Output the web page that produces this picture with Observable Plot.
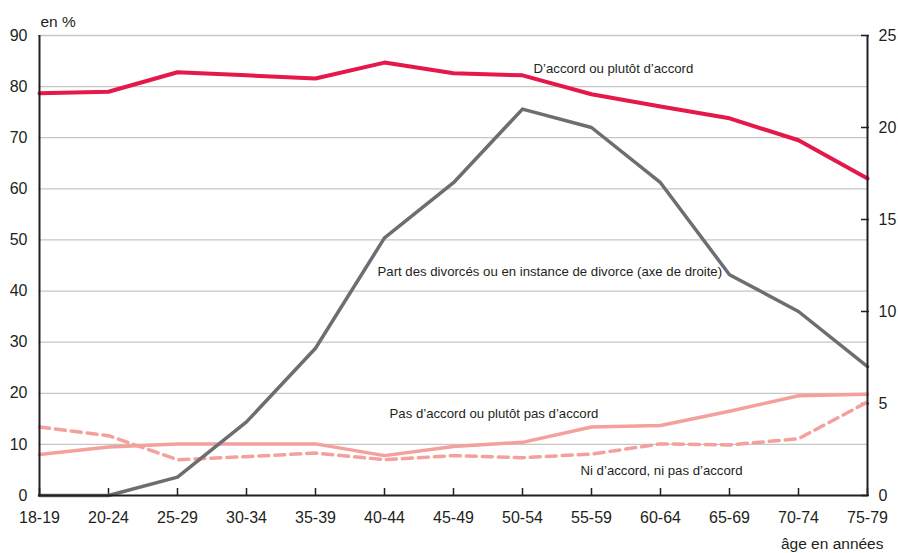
<!DOCTYPE html>
<html><head><meta charset="utf-8">
<script src="https://cdn.jsdelivr.net/npm/d3@7"></script>
<script src="https://cdn.jsdelivr.net/npm/@observablehq/plot@0.6"></script>
<style>body{margin:0;background:#fff;} svg{display:block}</style>
</head><body><div id="chart"></div>
<script>
const ages = ["18-19","20-24","25-29","30-34","35-39","40-44","45-49","50-54","55-59","60-64","65-69","70-74","75-79"];
const accord = [78.7, 79.0, 82.8, 82.2, 81.6, 84.7, 82.6, 82.2, 78.5, 76.1, 73.8, 69.5, 62.0];
const pasAccord = [8.0, 9.5, 10.1, 10.1, 10.1, 7.8, 9.6, 10.4, 13.4, 13.7, 16.5, 19.5, 19.8];
const niNi = [13.4, 11.7, 7.0, 7.6, 8.3, 7.0, 7.8, 7.4, 8.1, 10.1, 9.9, 11.1, 18.3];
const divorces = [0, 0, 1.0, 4.0, 8.0, 14.0, 17.0, 21.0, 20.0, 17.0, 12.0, 10.0, 7.0];
const leftTicks = [0, 10, 20, 30, 40, 50, 60, 70, 80, 90];
const rightTicks = [0, 5, 10, 15, 20, 25];
const labelTexts = [
  "D\u2019accord ou plutôt d\u2019accord",
  "Part des divorcés ou en instance de divorce (axe de droite)",
  "Pas d\u2019accord ou plutôt pas d\u2019accord",
  "Ni d\u2019accord, ni pas d\u2019accord"
];
const labelAges = ["50-54", "40-44", "40-44", "55-59"];
const labelValues = [83.5, 43.8, 16.0, 4.9];
const labelDx = [11, -7, 5, -11];
const ratio = 90 / 25;
const font = "'Liberation Sans', Arial, Helvetica, sans-serif";
const rows = ages.map((a, i) => ({age: a, accord: accord[i], pas: pasAccord[i], ni: niNi[i], div: divorces[i] * ratio}));
const ink = "#231f20";

const labelMarks = labelTexts.map((t, i) =>
  Plot.text([{text: t, age: labelAges[i], value: labelValues[i]}],
    {x: "age", y: "value", text: "text", dx: labelDx[i], textAnchor: "start", fontSize: 13.2, fill: ink}));

const chart = Plot.plot({
  width: 898, height: 553,
  marginLeft: 38, marginRight: 30, marginTop: 35, marginBottom: 58,
  style: {fontFamily: font, fontSize: "16px", color: ink, background: "#fff", overflow: "visible"},
  x: {type: "point", domain: ages, padding: 0},
  y: {domain: [0, 90]},
  marks: [
    Plot.ruleY(leftTicks.filter(d => d > 0), {stroke: "#c6c6c6", strokeWidth: 1.3}),
    Plot.axisY({ticks: leftTicks, tickSize: 0, tickPadding: 11, label: null, fontSize: 16}),
    Plot.axisY({anchor: "right", ticks: rightTicks.map(d => d * ratio), tickFormat: d => String(Math.round(d / ratio)), tickSize: 0, tickPadding: 10, label: null, fontSize: 16}),
    Plot.axisY({anchor: "right", ticks: rightTicks.map(d => d * ratio), tickFormat: () => "", tickSize: 8, dx: -8, label: null, stroke: ink, strokeWidth: 1.5}),
    Plot.axisX({tickSize: 0, tickPadding: 16, label: null, fontSize: 16}),
    Plot.axisX({tickSize: 7, dy: -7, tickFormat: () => "", label: null, stroke: ink, strokeWidth: 1.5}),
    Plot.line(rows, {x: "age", y: "pas", stroke: "#f4a09c", strokeWidth: 3.5}),
    Plot.line(rows, {x: "age", y: "ni", stroke: "#f4a09c", strokeWidth: 3.5, strokeDasharray: "10,6"}),
    Plot.line(rows, {x: "age", y: "div", stroke: "#6d6e71", strokeWidth: 3.5}),
    Plot.line(rows, {x: "age", y: "accord", stroke: "#e5184b", strokeWidth: 4}),
    Plot.ruleX([ages[0], ages[ages.length - 1]], {stroke: ink, strokeWidth: 2}),
    Plot.ruleY([0], {stroke: ink, strokeWidth: 2}),
    ...labelMarks,
    Plot.text(["en %"], {frameAnchor: "top-left", text: d => d, dx: 2, dy: -20, textAnchor: "start", fontSize: 15.5, fill: ink}),
    Plot.text(["âge en années"], {frameAnchor: "bottom-right", text: d => d, dx: 15, dy: 53, textAnchor: "end", fontSize: 15.5, fill: ink})
  ]
});
document.getElementById("chart").append(chart);
</script>
</body></html>
